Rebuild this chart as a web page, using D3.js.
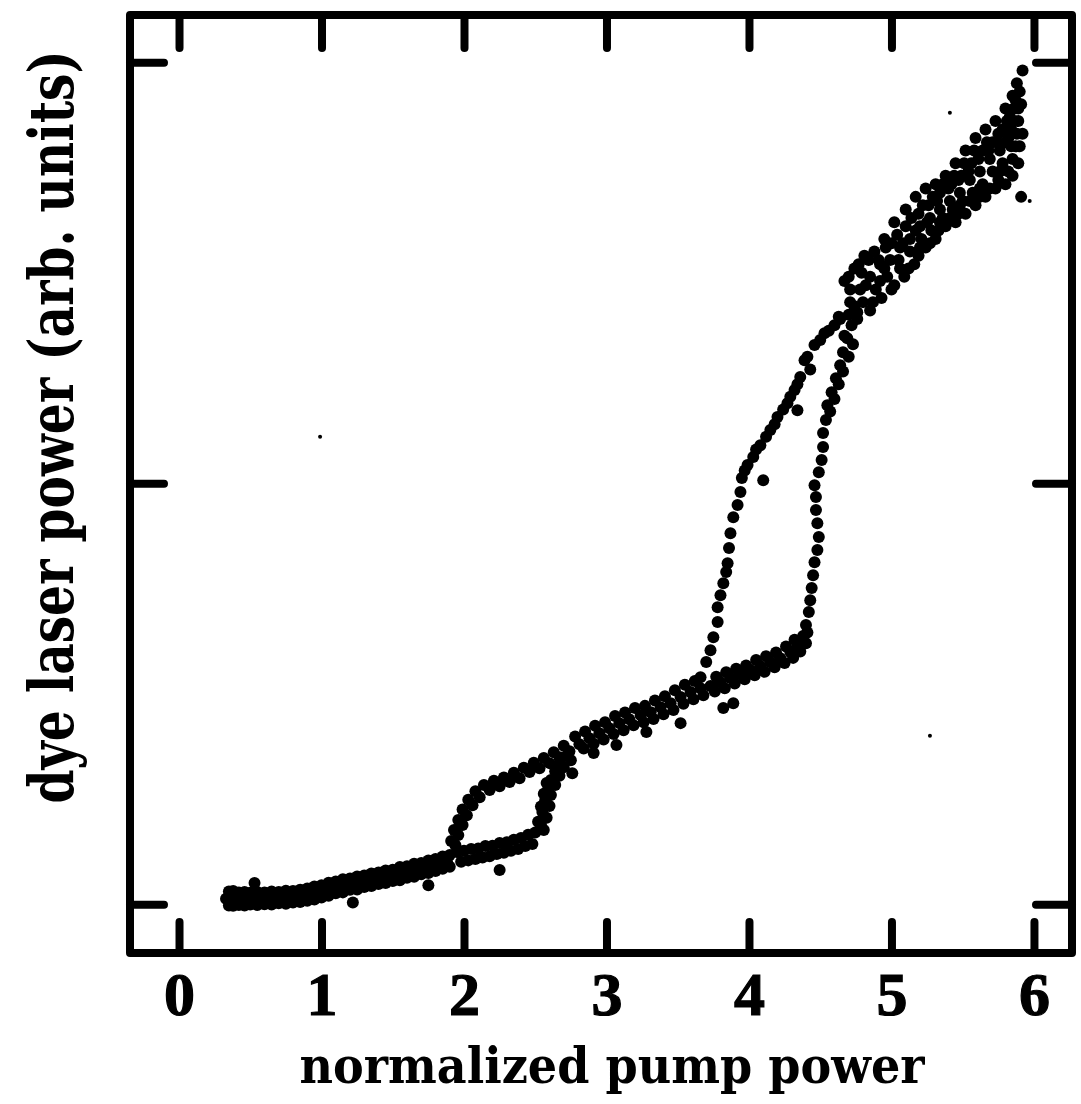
<!DOCTYPE html>
<html><head><meta charset="utf-8">
<script src="https://cdn.jsdelivr.net/npm/d3@7"></script>
<style>body{margin:0;background:#fff}</style>
</head><body><div id="chart"></div>
<script>
// ---------- data (x: normalized pump power, y: dye laser power, arb. units) ----------
const xTicks = [0, 1, 2, 3, 4, 5, 6];
const yTicks = [0, 1, 2];
const xTitle = "normalized pump power";
const yTitle = "dye laser power (arb. units)";

// low-power shared band
const baseBand = [
[0.35,0.030],[0.38,0.031],[0.42,0.028],[0.46,0.029],[0.50,0.027],[0.55,0.029],[0.60,0.028],[0.65,0.030],[0.70,0.029],[0.75,0.032],[0.80,0.031],[0.85,0.034],[0.90,0.037],[0.95,0.042],[1.00,0.045],[1.05,0.051],[1.10,0.054],[1.15,0.059],[1.20,0.061],[1.25,0.066],[1.30,0.068],[1.35,0.073],[1.40,0.075],[1.45,0.080],[1.50,0.082],[1.55,0.088],[1.60,0.090],[1.65,0.096],[1.70,0.098],[1.75,0.104],[1.80,0.107],[1.85,0.113],[1.90,0.117],
[0.35,-0.003],[0.38,-0.004],[0.42,-0.002],[0.46,-0.003],[0.50,-0.001],[0.55,-0.002],[0.60,0.000],[0.65,-0.001],[0.70,0.002],[0.75,0.001],[0.80,0.004],[0.85,0.005],[0.90,0.008],[0.95,0.011],[1.00,0.016],[1.05,0.020],[1.10,0.026],[1.15,0.028],[1.20,0.034],[1.25,0.035],[1.30,0.041],[1.35,0.043],[1.40,0.048],[1.45,0.050],[1.50,0.055],[1.55,0.057],[1.60,0.063],[1.65,0.065],[1.70,0.071],[1.75,0.074],[1.80,0.079],[1.85,0.084],[1.90,0.089],
[0.33,0.013],[0.37,0.014],[0.40,0.011],[0.44,0.015],[0.48,0.012],[0.53,0.014],[0.58,0.013],[0.63,0.015],[0.68,0.014],[0.73,0.017],[0.78,0.016],[0.83,0.019],[0.88,0.022],[0.93,0.026],[0.98,0.030],[1.03,0.035],[1.08,0.040],[1.13,0.043],[1.18,0.048],[1.23,0.050],[1.28,0.054],[1.33,0.057],[1.38,0.062],[1.43,0.065],[1.48,0.068],[1.53,0.073],[1.58,0.076],[1.63,0.080],[1.68,0.084],[1.73,0.089],[1.78,0.092],[1.83,0.098],[1.88,0.102],
[0.53,0.050],[1.22,0.004],[1.75,0.045]
];

// first hysteresis loop, lower (rising-pump) branch
const loop1Lower = [
[1.95,0.124],[2.00,0.127],[2.05,0.131],[2.10,0.132],[2.15,0.138],[2.20,0.139],[2.25,0.145],[2.30,0.147],[2.35,0.153],[2.40,0.157],[2.45,0.165],[2.50,0.170],
[1.98,0.101],[2.03,0.104],[2.08,0.107],[2.13,0.111],[2.18,0.114],[2.23,0.119],[2.28,0.122],[2.33,0.127],[2.38,0.131],[2.43,0.138],[2.48,0.143],
[2.54,0.188],[2.55,0.219],[2.57,0.247],[2.59,0.271],[2.61,0.295],[2.64,0.316],[2.67,0.335],[2.72,0.352],
[2.56,0.176],[2.58,0.205],[2.60,0.233],[2.61,0.259],[2.64,0.283],[2.67,0.305],[2.70,0.325],[2.75,0.342],
[2.52,0.196],[2.54,0.232],[2.56,0.262],[2.58,0.288],
[2.25,0.081]
];

// first hysteresis loop, upper (falling-pump) branch
const loop1Upper = [
[1.94,0.140],[1.96,0.164],[1.99,0.188],[2.02,0.211],[2.06,0.235],[2.11,0.254],[2.18,0.271],[2.25,0.280],[2.32,0.290],[2.39,0.299],[2.46,0.314],[2.53,0.323],[2.60,0.335],[2.67,0.349],[2.74,0.363],
[1.91,0.150],[1.93,0.176],[1.96,0.200],[1.99,0.225],[2.03,0.248],[2.08,0.268],[2.14,0.283],[2.21,0.293],[2.28,0.301],[2.35,0.312],[2.42,0.324],[2.49,0.336],[2.56,0.347],[2.63,0.361],[2.70,0.376]
];

// shared band between the loops
const midBand = [
[2.81,0.380],[2.88,0.394],[2.95,0.406],[3.02,0.418],[3.09,0.430],[3.16,0.439],[3.24,0.449],[3.31,0.456],[3.38,0.468],[3.45,0.477],[3.52,0.492],[3.59,0.504],[3.66,0.513],
[2.78,0.398],[2.85,0.410],[2.92,0.424],[2.99,0.432],[3.06,0.447],[3.13,0.455],[3.20,0.466],[3.27,0.471],[3.34,0.484],[3.41,0.494],[3.48,0.508],[3.55,0.521],[3.62,0.530],
[2.84,0.370],[2.91,0.381],[2.98,0.391],[3.05,0.404],[3.12,0.413],[3.19,0.425],[3.26,0.432],[3.33,0.440],[3.40,0.451],[3.47,0.461],[3.54,0.476],[3.61,0.487],[3.68,0.496],
[3.07,0.378],[3.28,0.409],[3.52,0.430],[3.82,0.466],[3.89,0.477],[2.76,0.311],[2.91,0.359]
];

// second loop, upper (falling-pump) branch
const loop2Upper = [
[3.66,0.539],[3.70,0.575],[3.73,0.603],[3.75,0.634],[3.78,0.670],[3.78,0.705],[3.80,0.734],[3.82,0.762],[3.84,0.789],[3.85,0.810],[3.86,0.846],[3.87,0.881],[3.89,0.919],[3.92,0.948],[3.94,0.979],[3.95,1.012],[3.99,1.043],[4.03,1.062],[4.08,1.090],[4.15,1.126],[4.20,1.157],[4.27,1.190],[4.32,1.221],[4.36,1.252],[4.39,1.292],[4.46,1.328],[4.53,1.356],[4.60,1.375],
[3.97,1.030],[4.05,1.080],[4.12,1.110],[4.18,1.140],[4.24,1.175],[4.29,1.205],[4.34,1.235],[4.41,1.300],[4.43,1.270],[4.50,1.340],[4.56,1.362],[4.63,1.395],
[4.10,1.007],[4.34,1.173]
];

// second loop, lower (rising-pump) branch
const loop2Lower = [
[3.73,0.518],[3.80,0.527],[3.87,0.537],[3.94,0.546],[4.01,0.556],[4.08,0.565],[4.15,0.575],[4.22,0.584],[4.29,0.599],[4.34,0.615],[4.38,0.637],[4.40,0.663],[4.42,0.694],[4.43,0.722],[4.44,0.751],[4.45,0.781],[4.46,0.812],[4.48,0.841],[4.49,0.872],[4.48,0.905],[4.47,0.936],[4.47,0.967],[4.46,0.995],[4.49,1.026],[4.51,1.055],[4.52,1.086],[4.52,1.119],[4.54,1.150],[4.55,1.185],[4.58,1.216],[4.61,1.249],[4.64,1.280],[4.66,1.311],[4.69,1.344],[4.72,1.375],[4.76,1.406],
[3.76,0.505],[3.83,0.513],[3.90,0.524],[3.97,0.534],[4.04,0.544],[4.11,0.552],[4.18,0.563],[4.25,0.573],[4.31,0.585],[4.36,0.600],[4.40,0.620],[4.41,0.645],
[3.77,0.540],[3.84,0.551],[3.91,0.559],[3.98,0.567],[4.05,0.580],[4.12,0.589],[4.19,0.598],[4.26,0.612],[4.32,0.628],
[4.57,1.170],[4.60,1.200],[4.63,1.235],[4.66,1.265],[4.70,1.300],[4.73,1.330]
];

// high-power shared band
const topBand = [
[4.67,1.48],[4.74,1.51],[4.81,1.54],[4.88,1.55],[4.95,1.58],[5.02,1.62],[5.10,1.65],[5.17,1.68],[5.24,1.70],[5.31,1.71],[5.38,1.73],[5.45,1.76],[5.52,1.79],[5.59,1.82],[5.66,1.84],[5.73,1.86],[5.80,1.89],[5.85,1.92],[5.88,1.95],[5.92,1.98],
[4.64,1.39],[4.71,1.43],[4.78,1.46],[4.85,1.49],[4.92,1.52],[4.99,1.53],[5.06,1.56],[5.13,1.58],[5.20,1.61],[5.27,1.63],[5.34,1.65],[5.41,1.67],[5.48,1.69],[5.55,1.72],[5.62,1.74],[5.69,1.77],[5.76,1.79],[5.82,1.82],[5.86,1.86],[5.89,1.89],
[4.67,1.35],[4.76,1.39],[4.85,1.41],[4.93,1.44],[5.02,1.47],[5.09,1.49],[5.16,1.52],[5.24,1.56],[5.31,1.58],[5.38,1.61],[5.45,1.62],[5.52,1.64],[5.59,1.66],[5.66,1.68],[5.73,1.70],[5.80,1.71],[5.85,1.73],[5.89,1.76],[5.90,1.80],[5.92,1.83],
[4.71,1.46],[4.79,1.50],[4.91,1.53],[5.00,1.57],[5.10,1.61],[5.19,1.64],[5.26,1.66],[5.34,1.69],[5.42,1.71],[5.49,1.73],[5.56,1.76],[5.64,1.79],[5.71,1.81],[5.78,1.84],[5.83,1.87],[5.87,1.91],
[4.92,1.48],[5.06,1.51],[5.20,1.56],[5.34,1.62],[5.48,1.66],[5.62,1.70],[5.76,1.74],[5.85,1.77],
[4.70,1.40],[4.80,1.43],[4.89,1.46],[4.97,1.49],[5.05,1.53],[5.13,1.55],[5.21,1.58],[5.28,1.60],[5.36,1.63],[5.43,1.65],[5.50,1.67],[5.57,1.69],[5.64,1.71],[5.71,1.74],[5.78,1.76],[5.84,1.80],[5.88,1.83],
[4.70,1.49],[4.77,1.52],[4.84,1.53],[4.96,1.56],[5.04,1.59],[5.14,1.63],[5.22,1.66],[5.29,1.68],[5.36,1.71],[5.44,1.73],[5.51,1.76],[5.58,1.79],[5.67,1.81],[5.75,1.83],[5.81,1.86],[5.86,1.89],[5.90,1.93],
[4.74,1.42],[4.82,1.47],[4.87,1.43],[4.95,1.51],[5.00,1.46],[5.08,1.57],[5.12,1.51],[5.17,1.60],[5.19,1.54],[5.25,1.62],[5.27,1.57],[5.32,1.67],[5.33,1.60],[5.40,1.70],[5.41,1.63],[5.47,1.72],[5.47,1.64],[5.54,1.74],[5.55,1.67],[5.61,1.77],[5.62,1.68],[5.68,1.79],[5.69,1.70],[5.74,1.81],[5.75,1.72],[5.80,1.81],[5.82,1.74],[5.84,1.84],[5.87,1.80],[5.89,1.86],[5.91,1.90],
[5.91,1.68]
];

// tiny isolated specks
const specks = [[5.97,1.67],[5.41,1.88],[5.27,0.40],[0.99,1.11]];

// ---------- drawing ----------
const W = 1081, H = 1104;
const svg = d3.select("#chart").append("svg")
  .attr("width", W).attr("height", H).style("display", "block");
svg.append("rect").attr("width", W).attr("height", H).attr("fill", "#fff");

const x = d3.scaleLinear().domain([-0.344, 6.267]).range([130, 1072]);
const y = d3.scaleLinear().domain([-0.116, 2.112]).range([953, 15]);

const series = [baseBand, loop1Lower, loop1Upper, midBand, loop2Upper, loop2Lower, topBand];
const gDots = svg.append("g");
series.forEach(s => {
  gDots.append("g").selectAll("circle").data(s).join("circle")
    .attr("cx", d => x(d[0])).attr("cy", d => y(d[1])).attr("r", 6).attr("fill", "#000");
});
gDots.append("g").selectAll("circle").data(specks).join("circle")
  .attr("cx", d => x(d[0])).attr("cy", d => y(d[1])).attr("r", 2).attr("fill", "#000");

function styleAxis(g) {
  g.select(".domain").remove();
  g.selectAll(".tick line").attr("stroke", "#000").attr("stroke-width", 8).attr("stroke-linecap", "round");
}

// bottom axis with labels
const gB = svg.append("g").attr("transform", `translate(0,${y.range()[0]})`)
  .call(d3.axisBottom(x).tickValues(xTicks).tickSizeInner(-31).tickSizeOuter(0).tickFormat(d3.format("d")));
styleAxis(gB);
gB.selectAll(".tick text").attr("y", 62).attr("dy", null)
  .attr("font-family", "'Liberation Serif', serif").attr("font-weight", "bold")
  .attr("font-size", 62).attr("fill", "#000").attr("stroke", "#000").attr("stroke-width", 1.2);

// top axis (ticks only)
const gT = svg.append("g").attr("transform", `translate(0,${y.range()[1]})`)
  .call(d3.axisTop(x).tickValues(xTicks).tickSizeInner(-33).tickSizeOuter(0).tickFormat(""));
styleAxis(gT);

// left / right axes (ticks only)
const gL = svg.append("g").attr("transform", `translate(${x.range()[0]},0)`)
  .call(d3.axisLeft(y).tickValues(yTicks).tickSizeInner(-34).tickSizeOuter(0).tickFormat(""));
styleAxis(gL);
const gR = svg.append("g").attr("transform", `translate(${x.range()[1]},0)`)
  .call(d3.axisRight(y).tickValues(yTicks).tickSizeInner(-36).tickSizeOuter(0).tickFormat(""));
styleAxis(gR);

// frame
svg.append("rect")
  .attr("x", x.range()[0]).attr("y", y.range()[1])
  .attr("width", x.range()[1] - x.range()[0]).attr("height", y.range()[0] - y.range()[1])
  .attr("fill", "none").attr("stroke", "#000").attr("stroke-width", 8).attr("stroke-linejoin", "round");

// axis titles
svg.append("text").attr("x", 612).attr("y", 1083).attr("text-anchor", "middle")
  .attr("font-family", "'DejaVu Serif', serif").attr("font-weight", "bold").attr("font-size", 50)
  .attr("textLength", 625).attr("lengthAdjust", "spacingAndGlyphs").attr("fill", "#000")
  .text(xTitle);
svg.append("text").attr("transform", "translate(73,427) rotate(-90) scale(1,1.42)").attr("text-anchor", "middle")
  .attr("font-family", "'DejaVu Serif', serif").attr("font-weight", "bold").attr("font-size", 44)
  .attr("textLength", 753).attr("lengthAdjust", "spacingAndGlyphs").attr("fill", "#000")
  .text(yTitle);
</script>
</body></html>
